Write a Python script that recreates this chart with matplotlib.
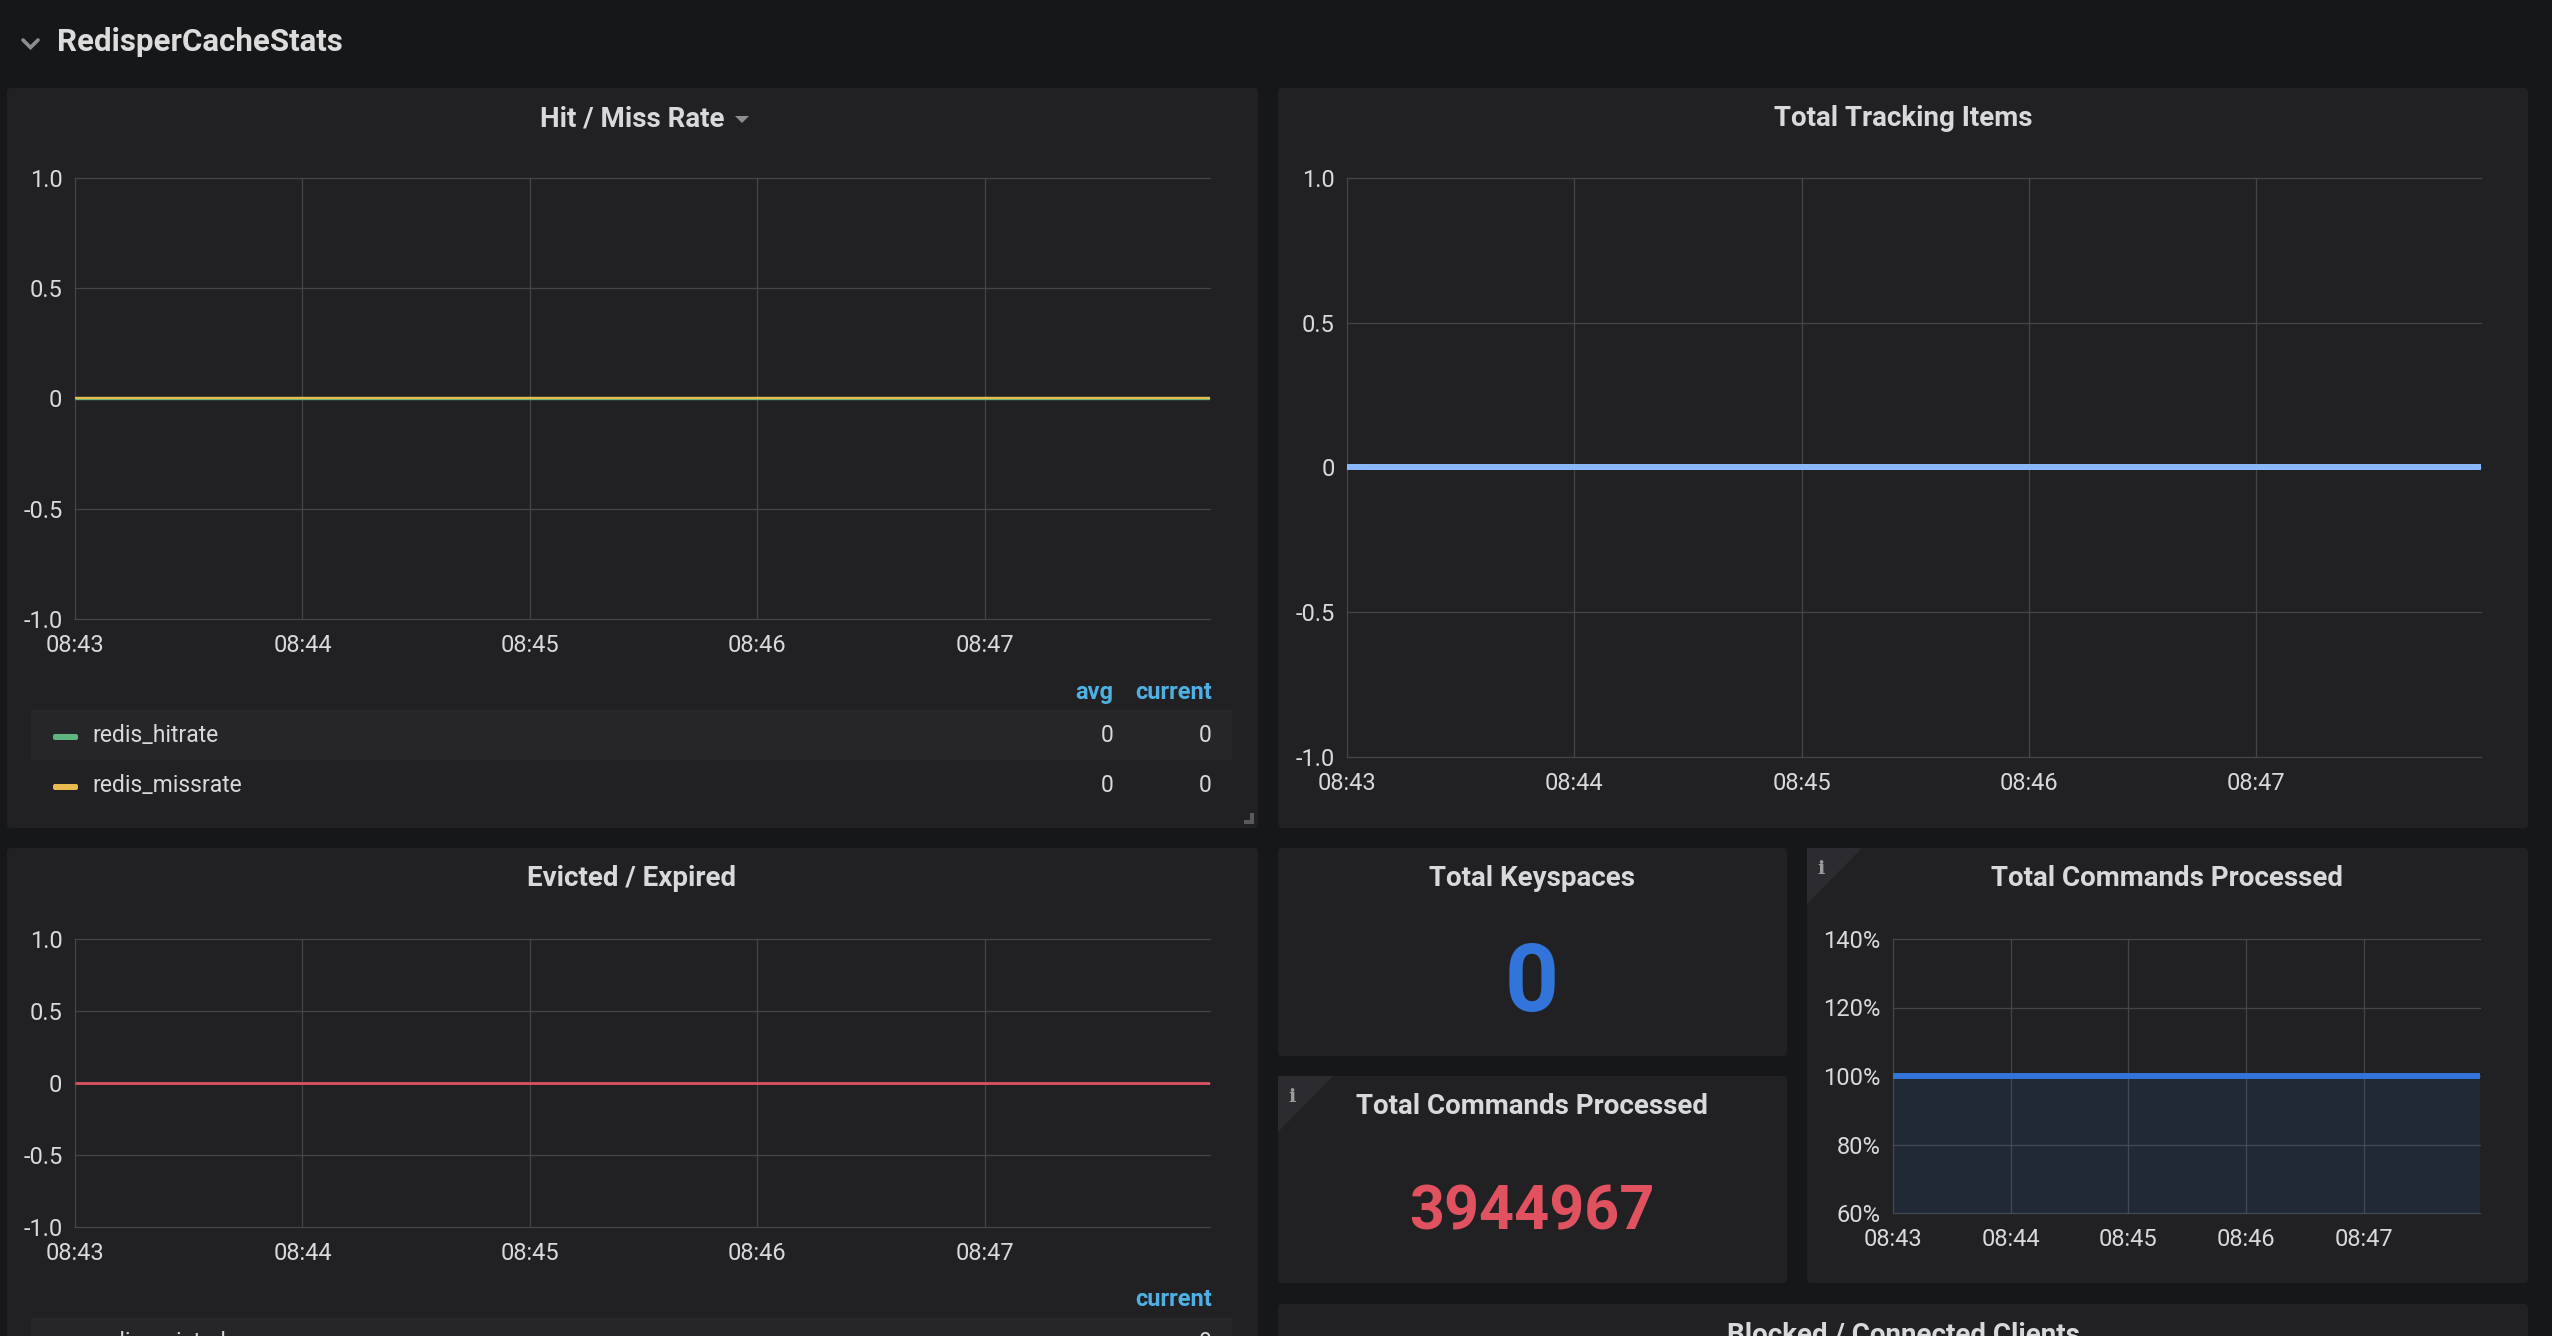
import matplotlib
matplotlib.use("Agg")
import matplotlib.pyplot as plt
import matplotlib.ticker as ticker
from matplotlib.patches import FancyBboxPatch, Polygon, Rectangle
from matplotlib.lines import Line2D
from matplotlib.transforms import Affine2D

plt.rcParams["font.family"] = ["Roboto", "DejaVu Sans"]
plt.rcParams["axes.unicode_minus"] = False

# Data
t_min        = [0.0, 0.5, 1.0, 1.5, 2.0, 2.5, 3.0, 3.5, 4.0, 4.5, 4.99]   # minutes after 08:43
hitrate      = [0, 0, 0, 0, 0, 0, 0, 0, 0, 0, 0]
missrate     = [0, 0, 0, 0, 0, 0, 0, 0, 0, 0, 0]
tracking     = [0, 0, 0, 0, 0, 0, 0, 0, 0, 0, 0]
evicted      = [0, 0, 0, 0, 0, 0, 0, 0, 0, 0, 0]
cmd_ratio    = [1.0, 1.0, 1.0, 1.0, 1.0, 1.0, 1.0, 1.0, 1.0, 1.0, 1.0]
time_labels  = ["08:43", "08:44", "08:45", "08:46", "08:47"]
val_ticks    = [-1.0, -0.5, 0.0, 0.5, 1.0]
val_labels   = ["-1.0", "-0.5", "0", "0.5", "1.0"]
pct_ticks    = [0.6, 0.8, 1.0, 1.2, 1.4]
keyspaces    = 0
commands     = 3944967
hit_legend   = [("redis_hitrate", 0, 0), ("redis_missrate", 0, 0)]
evict_legend = [("redis_evicted", 0)]

W, H = 2552, 1336
BG, PANEL, STRIPE = "#161719", "#212124", "#262629"
GRID, TEXT, HEAD = "#454548", "#d8d9da", "#4fb0e4"
GREEN, YELLOW, RED = "#5fb47f", "#e8bb4f", "#e0525f"
LBLUE, BLUE = "#8ab8ff", "#3274d9"

fig = plt.figure(figsize=(W / 100, H / 100), dpi=100)
fig.patch.set_facecolor(BG)
PX = Affine2D().scale(0.01, -0.01).translate(0, H / 100) + fig.dpi_scale_trans


def panel(x0, y0, x1, y1):
    fig.patches.append(FancyBboxPatch((x0, y0), x1 - x0, y1 - y0,
                                      boxstyle="round,pad=0,rounding_size=4",
                                      fc=PANEL, ec="none", transform=PX, zorder=-2))


def info_corner(x0, y0):
    fig.patches.append(Polygon([(x0, y0), (x0 + 55, y0), (x0, y0 + 56)], closed=True,
                               fc="#2c2c30", ec="none", transform=PX, zorder=-1))
    fig.text(x0 + 14, y0 + 26, "i", transform=PX, color="#9b9b9d", fontsize=14,
             family="DejaVu Serif", weight="bold", ha="center", va="baseline")


def title(x, y, s):
    fig.text(x, y, s, transform=PX, color=TEXT, fontsize=20, weight="bold",
             ha="center", va="baseline")


def add_ax(x0, y0, x1, y1):
    return fig.add_axes([x0 / W, 1 - y1 / H, (x1 - x0) / W, (y1 - y0) / H])


def style(ax, yticks, ylim, ylabels=None):
    ax.set_facecolor("none")
    for s in ax.spines.values():
        s.set_visible(False)
    ax.set_xlim(0, 4.99)
    ax.set_ylim(*ylim)
    ax.set_xticks(range(len(time_labels)))
    ax.set_xticklabels(time_labels)
    ax.set_yticks(yticks)
    if ylabels is not None:
        ax.set_yticklabels(ylabels)
    ax.tick_params(length=0, colors=TEXT, labelsize=17)
    ax.tick_params(axis="y", pad=9)
    ax.tick_params(axis="x", pad=11)
    ax.grid(True, color=GRID, lw=0.9)
    ax.set_axisbelow(True)
    for gl in ax.get_xgridlines() + ax.get_ygridlines():
        gl.set_clip_on(False)


# Header row
fig.add_artist(Line2D([23, 30.5, 38], [40, 47.5, 40], transform=PX, color="#8e8e90",
                      lw=2.6, solid_capstyle="round", solid_joinstyle="miter"))
fig.text(57, 51, "RedisperCacheStats", transform=PX, color="#dcdcdd", fontsize=22.5,
         weight="bold", ha="left", va="baseline")

# Panel backgrounds
panel(7, 88, 1258, 828)
panel(1278, 88, 2528, 828)
panel(7, 848, 1258, 1400)
panel(1278, 848, 1787, 1056)
panel(1278, 1076, 1787, 1283)
panel(1807, 848, 2528, 1283)
panel(1278, 1304, 2528, 1400)

# Hit / Miss Rate
title(632, 126, "Hit / Miss Rate")
fig.patches.append(Polygon([(735, 116), (749, 116), (742, 123)], closed=True,
                           fc="#8e8e90", ec="none", transform=PX))
ax = add_ax(75, 178, 1210, 619)
style(ax, val_ticks, (-1, 1), val_labels)
ax.plot(t_min, hitrate, color=GREEN, lw=2.4, solid_capstyle="butt")
ax.plot(t_min, missrate, color=YELLOW, lw=1.6, solid_capstyle="butt")

fig.text(1113, 699, "avg", transform=PX, color=HEAD, fontsize=17, weight="bold",
         ha="right", va="baseline")
fig.text(1212, 699, "current", transform=PX, color=HEAD, fontsize=17, weight="bold",
         ha="right", va="baseline")
fig.patches.append(Rectangle((31, 710), 1201, 50, fc=STRIPE, ec="none", transform=PX,
                             zorder=-1))
for i, (name, avg, cur) in enumerate(hit_legend):
    base = 742 + 50 * i
    colr = [GREEN, YELLOW][i]
    fig.patches.append(FancyBboxPatch((53, base - 8), 25, 6,
                                      boxstyle="round,pad=0,rounding_size=2",
                                      fc=colr, ec="none", transform=PX))
    fig.text(92, base, name, transform=PX, color=TEXT, fontsize=16.5, ha="left", va="baseline")
    fig.text(1113, base, f"{avg}", transform=PX, color=TEXT, fontsize=16.5, ha="right", va="baseline")
    fig.text(1212, base, f"{cur}", transform=PX, color=TEXT, fontsize=16.5, ha="right", va="baseline")
# resize handle
fig.patches.append(Rectangle((1250, 813), 4, 11, fc="#5a5a5e", ec="none", transform=PX))
fig.patches.append(Rectangle((1244, 820), 10, 4, fc="#5a5a5e", ec="none", transform=PX))

# Total Tracking Items
title(1903, 126, "Total Tracking Items")
ax = add_ax(1347, 178, 2481, 757)
style(ax, val_ticks, (-1, 1), val_labels)
ax.plot(t_min, tracking, color=LBLUE, lw=4.3, solid_capstyle="butt")

# Evicted / Expired
title(632, 886, "Evicted / Expired")
ax = add_ax(75, 939, 1210, 1227)
style(ax, val_ticks, (-1, 1), val_labels)
ax.plot(t_min, evicted, color=RED, lw=2.0, solid_capstyle="butt")
fig.text(1212, 1306, "current", transform=PX, color=HEAD, fontsize=17, weight="bold",
         ha="right", va="baseline")
fig.patches.append(Rectangle((31, 1318), 1201, 50, fc=STRIPE, ec="none", transform=PX,
                             zorder=-1))
for i, (name, cur) in enumerate(evict_legend):
    base = 1349 + 50 * i
    fig.patches.append(FancyBboxPatch((53, base - 8), 25, 6,
                                      boxstyle="round,pad=0,rounding_size=2",
                                      fc=RED, ec="none", transform=PX))
    fig.text(92, base, name, transform=PX, color=TEXT, fontsize=16.5, ha="left", va="baseline")
    fig.text(1212, base, f"{cur}", transform=PX, color=TEXT, fontsize=16.5, ha="right", va="baseline")

# Total Keyspaces stat
title(1532, 886, "Total Keyspaces")
fig.text(1532, 1011, f"{keyspaces}", transform=PX, color=BLUE, fontsize=68,
         weight="bold", ha="center", va="baseline")

# Total Commands Processed stat
info_corner(1278, 1076)
title(1532, 1114, "Total Commands Processed")
fig.text(1532, 1229, f"{commands}", transform=PX, color=RED, fontsize=44,
         weight="bold", ha="center", va="baseline")

# Total Commands Processed graph
info_corner(1807, 848)
title(2167, 886, "Total Commands Processed")
ax = add_ax(1893, 939, 2480, 1213)
style(ax, pct_ticks, (0.6, 1.4))
ax.yaxis.set_major_formatter(ticker.PercentFormatter(xmax=1, decimals=0))
ax.fill_between(t_min, cmd_ratio, 0, color=BLUE, alpha=0.1, lw=0)
ax.plot(t_min, cmd_ratio, color=BLUE, lw=4.3, solid_capstyle="butt")

# Blocked / Connected Clients (cut off at the bottom)
title(1903, 1342, "Blocked / Connected Clients")

fig.savefig("out.png", dpi=100, facecolor=BG)
